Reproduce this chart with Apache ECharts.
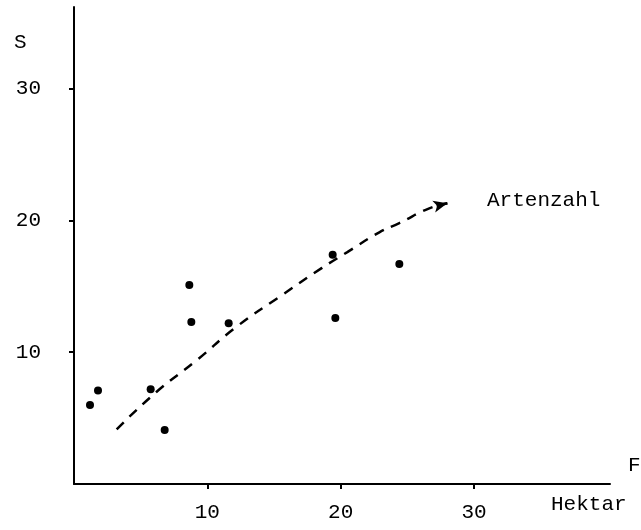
<!DOCTYPE html>
<html>
<head>
<meta charset="utf-8">
<script src="https://cdn.jsdelivr.net/npm/echarts@6/dist/echarts.min.js"></script>
<style>html,body{margin:0;padding:0;background:#fff}#c{width:641px;height:530px}</style>
</head>
<body>
<div id="c"></div>
<script>
// Data points (Fläche in Hektar, Artenzahl S)
const pointsX = [1.2, 1.8, 5.75, 6.8, 8.65, 8.8, 11.6, 19.4, 19.6, 24.4];
const pointsY = [6.0, 7.1, 7.2, 4.1, 15.1, 12.3, 12.2, 17.4, 12.6, 16.7];
// Dashed trend curve
const curveX = [3.2, 6.2, 9.15, 12.15, 15.4, 18.6, 20.5, 22.9, 24.4, 26.6, 28.0];
const curveY = [4.15, 7.0, 9.35, 11.9, 14.2, 16.4, 17.6, 19.1, 19.8, 20.9, 21.3];
const tickValues = [10, 20, 30];
const curveLabel = 'Artenzahl';
const yName = 'S';
const xName = 'F';
const unitName = 'Hektar';

const FONT = 'Liberation Mono';
const FS = 21;
const ts = { fontFamily: FONT, fontSize: FS, fontWeight: 'normal', color: '#000' };
const chart = echarts.init(document.getElementById('c'));
const n = curveX.length;
chart.setOption({
  animation: false,
  backgroundColor: '#fff',
  grid: { left: 74, right: 31, top: 7, bottom: 46 },
  title: [
    { text: yName, left: 9, top: 27, textStyle: ts },
    { text: xName, left: 628, top: 455, padding: 0, textStyle: ts },
    { text: unitName, left: 546, top: 489, textStyle: ts },
    { text: curveLabel, left: 482, top: 185, textStyle: ts }
  ],
  xAxis: {
    type: 'value', min: 0, max: 40.2,
    splitLine: { show: false },
    axisLine: { show: true, onZero: false, lineStyle: { color: '#000', width: 2 } },
    axisTick: { show: true, inside: false, length: 5, lineStyle: { color: '#000', width: 2 }, customValues: tickValues },
    axisLabel: { margin: 18, color: '#000', fontFamily: FONT, fontSize: FS, customValues: tickValues }
  },
  yAxis: {
    type: 'value', min: 0, max: 36.2,
    splitLine: { show: false },
    axisLine: { show: true, onZero: false, lineStyle: { color: '#000', width: 2 } },
    axisTick: { show: true, inside: false, length: 5, lineStyle: { color: '#000', width: 2 }, customValues: tickValues },
    axisLabel: { margin: 33, color: '#000', fontFamily: FONT, fontSize: FS, customValues: tickValues }
  },
  series: [
    {
      type: 'scatter',
      data: pointsX.map((x, i) => [x, pointsY[i]]),
      symbol: 'circle', symbolSize: 8,
      itemStyle: { color: '#000', opacity: 1 }
    },
    {
      type: 'line',
      data: curveX.map((x, i) => [x, curveY[i]]),
      smooth: true, showSymbol: false, symbol: 'none',
      lineStyle: { color: '#000', width: 2.5, type: [10, 8] },
      markLine: {
        silent: true, symbol: ['none', 'arrow'], symbolSize: [9, 14],
        label: { show: false },
        lineStyle: { color: '#000', width: 2.5, type: 'solid' },
        data: [[{ coord: [curveX[n - 2] + 0.6, curveY[n - 2] + 0.2] }, { coord: [curveX[n - 1], curveY[n - 1]] }]]
      }
    }
  ]
});
</script>
</body>
</html>
